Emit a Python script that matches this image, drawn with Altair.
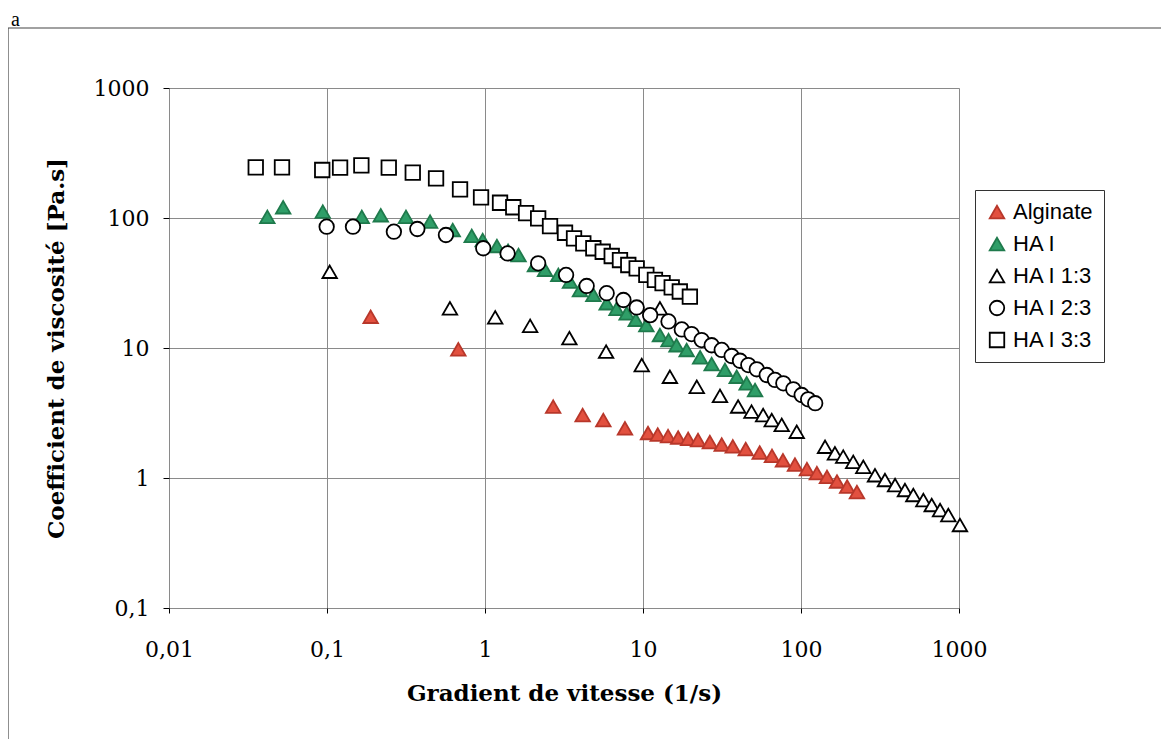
import altair as alt
import pandas as pd

# ---- data ----
series = ["Alginate", "HA I", "HA I 1:3", "HA I 2:3", "HA I 3:3"]

alg_x = [0.189, 0.678, 2.70, 4.15, 5.61, 7.69, 10.76, 12.4, 14.4, 16.7, 19.3, 22.3, 26.5, 31.5,
         37.0, 44.7, 54.8, 65.5, 76.9, 91.6, 109, 126, 146, 169, 196, 226]
alg_y = [17.4, 9.77, 3.54, 3.05, 2.79, 2.41, 2.22, 2.16, 2.10, 2.05, 2.00, 1.96, 1.89, 1.81,
         1.75, 1.67, 1.57, 1.48, 1.37, 1.27, 1.17, 1.09, 1.02, 0.94, 0.86, 0.78]

ha_x = [0.0419, 0.0528, 0.094, 0.166, 0.219, 0.316, 0.449, 0.625, 0.824, 0.967, 1.19, 1.40, 1.63,
        2.07, 2.40, 2.91, 3.45, 3.99, 4.85, 5.89, 6.8, 7.88, 9.0, 10.5, 12.8, 14.5, 16.3, 18.9,
        23.0, 27.2, 33.0, 39.2, 45.3, 51.2]
ha_y = [102, 121, 112, 102, 105, 102, 93.7, 80.9, 72.8, 67.7, 60.9, 56.0, 51.9,
        43.5, 40.0, 36.5, 32.4, 27.9, 25.6, 22.1, 20.0, 18.5, 16.5, 15.0, 12.6, 11.5, 10.5, 9.66,
        8.48, 7.53, 6.78, 6.01, 5.35, 4.75]

t13_x = [0.104, 0.600, 1.16, 1.93, 3.42, 5.84, 9.82, 12.8, 14.8, 21.9, 30.7, 40.0, 48.6, 57.6,
         65.3, 75.5, 94, 142, 164, 185, 214, 248, 294, 340, 394, 455, 514, 595, 672, 759, 856, 1014]
t13_y = [38.6, 20.2, 17.2, 14.8, 11.9, 9.37, 7.39, 20.2, 6.01, 5.03, 4.28, 3.55, 3.24, 3.05,
         2.79, 2.56, 2.27, 1.74, 1.55, 1.46, 1.33, 1.22, 1.05, 0.966, 0.883, 0.809, 0.740, 0.677,
         0.620, 0.567, 0.519, 0.435]

c23_x = [0.0995, 0.146, 0.265, 0.373, 0.566, 0.975, 1.39, 2.17, 3.26, 4.40, 5.89, 7.52, 9.12,
         11.1, 14.5, 17.6, 20.3, 23.5, 27.2, 31.5, 36.4, 41.1, 46.4, 52.5, 60.7, 68.5, 77.3,
         89.4, 101, 111, 123]
c23_y = [85.7, 85.7, 78.5, 82.3, 74.0, 58.5, 53.4, 44.8, 36.5, 30.0, 26.4, 23.4, 20.5,
         17.9, 16.0, 13.9, 12.8, 11.5, 10.5, 9.66, 8.68, 7.98, 7.39, 6.86, 6.20, 5.68, 5.35,
         4.81, 4.35, 4.03, 3.76]

s33_x = [0.0354, 0.0519, 0.0933, 0.121, 0.165, 0.246, 0.349, 0.49, 0.695, 0.944, 1.245, 1.51,
         1.82, 2.17, 2.58, 3.21, 3.66, 4.19, 4.85, 5.56, 6.34, 7.15, 8.07, 9.12, 10.5, 11.9,
         13.3, 15.2, 17.1, 19.8]
s33_y = [245, 245, 234, 244, 254, 244, 223, 202, 166, 144, 131, 121,
         109, 99.5, 86.7, 77, 69.8, 63.9, 58.5, 55, 51, 47.5, 43.5, 41, 36.5, 33.4,
         31.5, 29.3, 27.2, 24.8]

x_ticks = [0.01, 0.1, 1, 10, 100, 1000]
y_ticks = [0.1, 1, 10, 100, 1000]

rows = []
for name, xs, ys in zip(series, [alg_x, ha_x, t13_x, c23_x, s33_x],
                        [alg_y, ha_y, t13_y, c23_y, s33_y]):
    for xv, yv in zip(xs, ys):
        rows.append({"serie": name, "x": xv, "y": yv})
df = pd.DataFrame(rows)

shapes = ["triangle-up", "triangle-up", "triangle-up", "circle", "square"]
fills = ["#e2503f", "#2f9e68", "white", "white", "white"]
strokes = ["#b8372a", "#1f7a4c", "black", "black", "black"]
sizes = [210, 210, 200, 150, 170]

legend = alt.Legend(title=None, orient="none", legendX=806, legendY=102,
                    strokeColor="#333", fillColor="white", padding=11,
                    labelFont="Liberation Sans", labelFontSize=22, labelColor="black",
                    symbolStrokeWidth=1.8, rowPadding=10, labelOffset=5)

label_expr = "replace(toString(datum.value), '.', ',')"

points = alt.Chart(df).mark_point(filled=True, strokeWidth=1.8, opacity=1).encode(
    x=alt.X("x:Q",
            scale=alt.Scale(type="log", domain=[0.01, 1000], nice=False),
            axis=alt.Axis(values=x_ticks, labelExpr=label_expr, title="Gradient de vitesse (1/s)",
                          grid=True, gridColor="#8a8a8a", gridWidth=1, labelFlush=False,
                          tickSize=5, tickColor="black", labelPadding=26,
                          labelFont="DejaVu Serif", labelFontSize=22, labelColor="black",
                          titleFont="DejaVu Serif", titleFontWeight="bold", titleFontSize=23,
                          titleColor="black", titlePadding=22, domain=False)),
    y=alt.Y("y:Q",
            scale=alt.Scale(type="log", domain=[0.1, 1000], nice=False),
            axis=alt.Axis(values=y_ticks, labelExpr=label_expr, title="Coefficient de viscosité [Pa.s]",
                          grid=True, gridColor="#8a8a8a", gridWidth=1, labelFlush=False,
                          tickSize=6, tickColor="black", labelPadding=14,
                          labelFont="DejaVu Serif", labelFontSize=22, labelColor="black",
                          titleFont="DejaVu Serif", titleFontWeight="bold", titleFontSize=23,
                          titleColor="black", titlePadding=25, domain=False)),
    shape=alt.Shape("serie:N", scale=alt.Scale(domain=series, range=shapes), legend=legend),
    fill=alt.Fill("serie:N", scale=alt.Scale(domain=series, range=fills), legend=legend),
    stroke=alt.Stroke("serie:N", scale=alt.Scale(domain=series, range=strokes), legend=legend),
    size=alt.Size("serie:N", scale=alt.Scale(domain=series, range=sizes), legend=legend),
)

one = pd.DataFrame({"k": [0]})
frame_top = alt.Chart(one).mark_rule(color="#444", strokeWidth=1.2).encode(
    x=alt.value(-161), x2=alt.value(1010), y=alt.value(-60))
frame_left = alt.Chart(one).mark_rule(color="#444", strokeWidth=1.2).encode(
    x=alt.value(-161), y=alt.value(-60), y2=alt.value(670))
letter = alt.Chart(one).mark_text(text="a", font="Liberation Serif", fontSize=20,
                                  align="left", baseline="alphabetic", color="black").encode(
    x=alt.value(-158), y=alt.value(-62))

chart = alt.layer(frame_top, frame_left, letter, points).properties(
    width=790, height=520,
    autosize=alt.AutoSizeParams(type="none"),
    padding={"left": 161, "top": 80, "right": 202, "bottom": 131},
).configure_view(stroke="black", strokeWidth=2).configure(background="white")

chart.save("out.html", embed_options={"renderer": "svg", "actions": False})
